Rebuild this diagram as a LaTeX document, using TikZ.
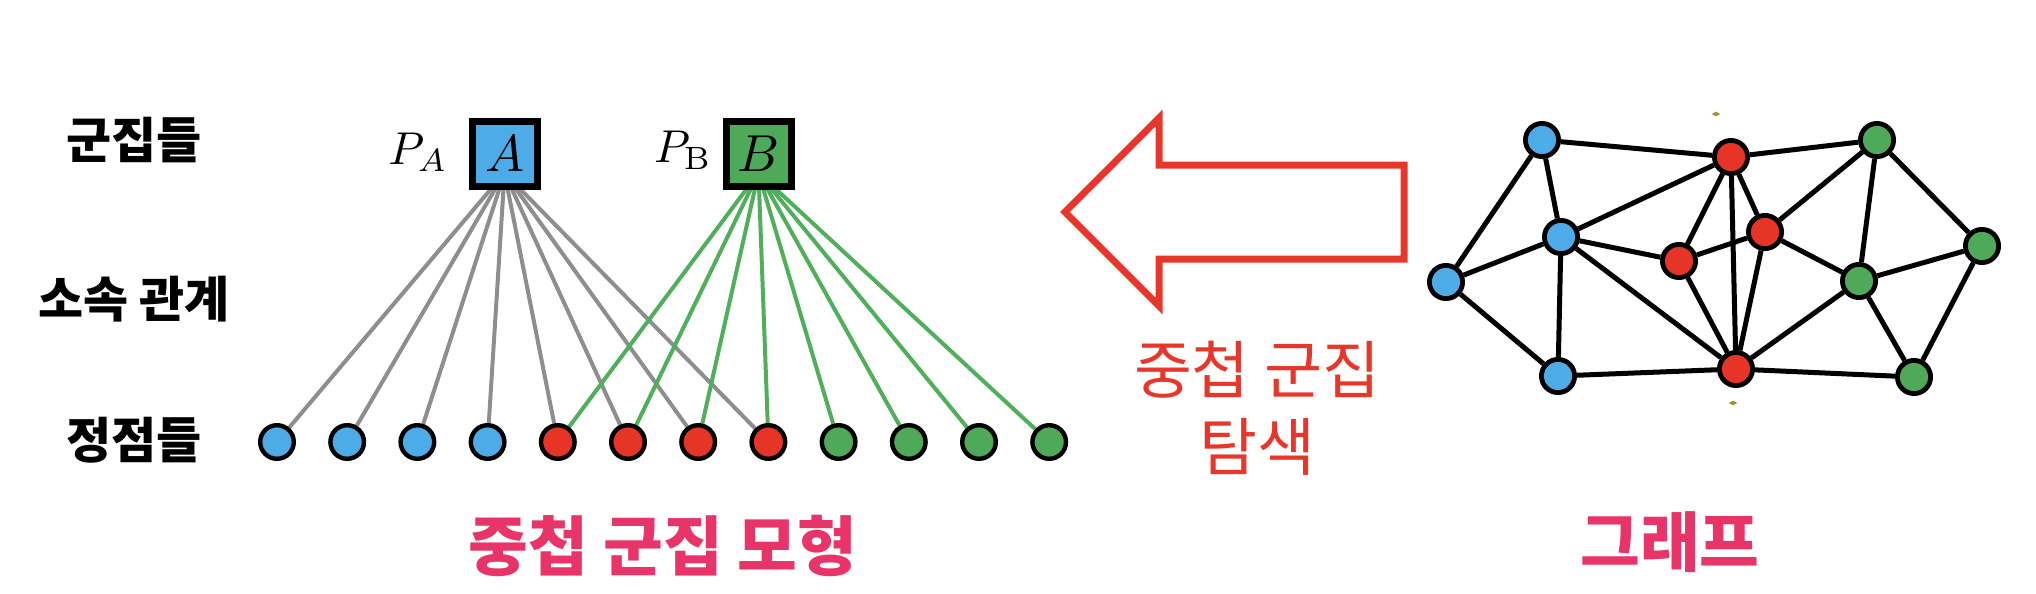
\documentclass[tikz,border=0pt]{standalone}
\usepackage{fontspec}
\newfontfamily\kr{Noto Sans CJK KR}
\usetikzlibrary{shapes.geometric,backgrounds}
\definecolor{cblue}{RGB}{77,171,232}
\definecolor{cred}{RGB}{230,52,38}
\definecolor{cgreen}{RGB}{78,170,88}
\definecolor{cgray}{RGB}{142,142,142}
\definecolor{cgline}{RGB}{80,175,90}
\definecolor{carrow}{RGB}{232,55,42}
\definecolor{cpink}{RGB}{232,52,105}
\definecolor{colive}{RGB}{160,150,50}
\tikzset{
  vtx/.style={circle, draw=black, line width=2.2pt, minimum size=16.8pt, inner sep=0pt},
  bv/.style={vtx, fill=cblue},
  rv/.style={vtx, fill=cred},
  gv/.style={vtx, fill=cgreen},
  gnode/.style={circle, draw=black, line width=2.4pt, minimum size=16.6pt, inner sep=0pt},
  gbn/.style={gnode, fill=cblue},
  grn/.style={gnode, fill=cred},
  ggn/.style={gnode, fill=cgreen},
  cbox/.style={draw=black, line width=3.5pt, minimum size=32.5pt, inner sep=0pt},
  aedge/.style={draw=cgray, line width=2pt},
  bedge/.style={draw=cgline, line width=2pt},
  kedge/.style={draw=black, line width=2.5pt},
  rowlbl/.style={font=\kr\bfseries\fontsize{24.5}{28}\selectfont},
  redtxt/.style={font=\kr\fontsize{31.5}{38.5}\selectfont, text=carrow, align=center},
  pinktxt/.style={font=\kr\bfseries\fontsize{32.5}{36}\selectfont, text=cpink},
  bigarrow/.style={draw=carrow, line width=3.5pt, line join=miter},
  tick/.style={diamond, fill=colive, inner sep=0pt, minimum width=4.5pt, minimum height=2.5pt},
}
\newcommand{\myscaled}[2]{\scalebox{#1}{#2}}
\begin{document}
\begin{tikzpicture}[x=0.5pt,y=-0.5pt]
\useasboundingbox (0,0) rectangle (2036,594);

% row labels
\node[rowlbl] (l1) at (134,140) {군집들};
\node[rowlbl] (l2) at (134,299) {소속 관계};
\node[rowlbl] (l3) at (134,440) {정점들};

% cluster boxes
\node[cbox, fill=cblue] (A) at (504.5,154) {\myscaled{2.6}{$A$}};
\node[cbox, fill=cgreen] (B) at (758.5,154) {\myscaled{2.6}{$B$}};
\node (PA) at (418,152) {\myscaled{2.3}{$P_A$}};
\node (PB) at (683,150) {\myscaled{2.3}{$P_{\mathrm{B}}$}};
\coordinate (Ahub) at (504.5,173);
\coordinate (Bhub) at (758.5,173);

% vertices
\foreach \i/\s in {1/bv,2/bv,3/bv,4/bv,5/rv,6/rv,7/rv,8/rv,9/gv,10/gv,11/gv,12/gv}{
  \node[\s] (v\i) at ({277+70.2*(\i-1)},442) {};
}

\begin{scope}[on background layer]
\foreach \i in {1,...,8}{ \draw[aedge] (Ahub) -- (v\i); }
\foreach \i in {5,...,12}{ \draw[bedge] (Bhub) -- (v\i); }
\end{scope}

% big arrow
\draw[bigarrow] (1065,212) -- (1159,118) -- (1159,165) -- (1404,165) -- (1404,259)
  -- (1159,259) -- (1159,306) -- cycle;
\node[redtxt] (search) at (1257,408) {중첩 군집\\ 탐색};

% graph
\node[gbn] (b1) at (1542,140) {};
\node[grn] (r1) at (1731,157) {};
\node[ggn] (g1) at (1877,140) {};
\node[gbn] (b2) at (1561,237) {};
\node[grn] (r2) at (1679,261) {};
\node[grn] (r3) at (1765,232) {};
\node[ggn] (g2) at (1859,281) {};
\node[ggn] (g3) at (1982,246) {};
\node[gbn] (b3) at (1446,282) {};
\node[gbn] (b4) at (1558,376) {};
\node[grn] (r4) at (1736,369) {};
\node[ggn] (g4) at (1914,377) {};
\node[tick] (t1) at (1716,114) {};
\node[tick] (t2) at (1733,403) {};

\begin{scope}[on background layer]
\foreach \a/\b in {b1/r1,b1/b3,b1/b2,r1/g1,r1/b2,r1/r2,r1/r4,r1/r3,g1/r3,g1/g2,g1/g3,
  b2/b3,b2/r2,b2/b4,b2/r4,b3/b4,r2/r3,r2/r4,r3/r4,r3/g2,g2/g3,g2/r4,g2/g4,g3/g4,b4/r4,r4/g4}{
  \draw[kedge] (\a) -- (\b);
}
\end{scope}

% captions
\node[pinktxt] (cap1) at (663,546) {중첩 군집 모형};
\node[pinktxt] (cap2) at (1670,542) {그래프};
\end{tikzpicture}
\end{document}
